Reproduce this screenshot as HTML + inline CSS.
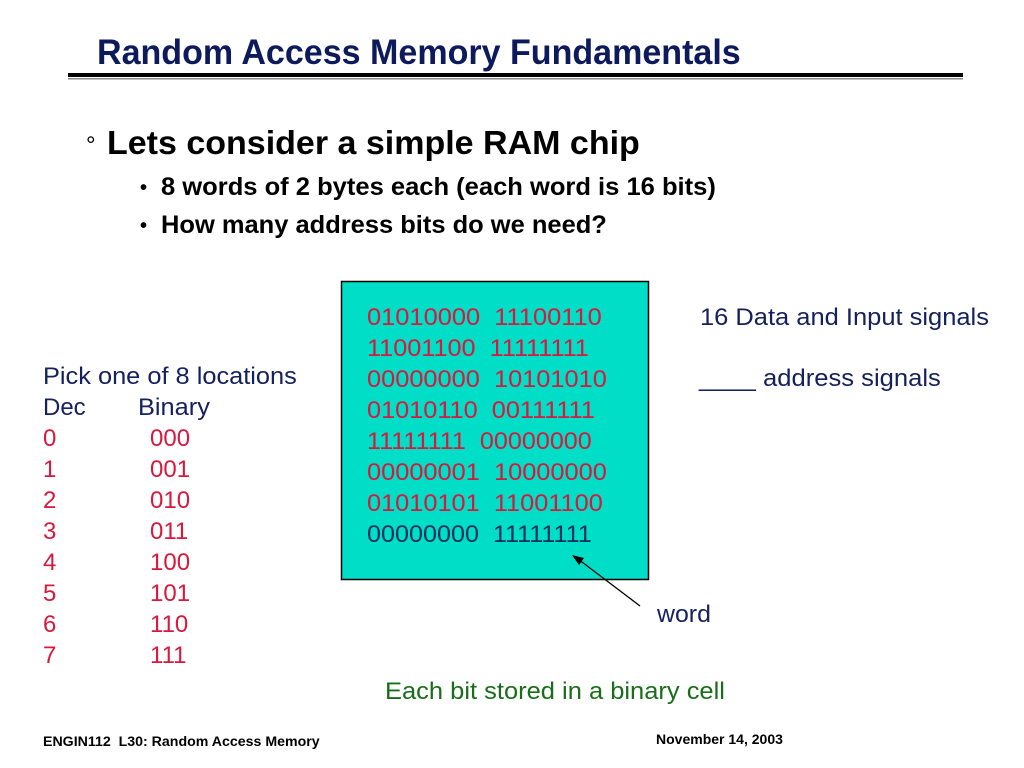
<!DOCTYPE html>
<html><head><meta charset="utf-8"><style>
html,body{margin:0;padding:0;background:#fff;width:1024px;height:768px;overflow:hidden}
svg{display:block}
text{font-family:"Liberation Sans",Arial,sans-serif}
</style></head><body>
<svg width="1024" height="768" viewBox="0 0 1024 768" xmlns="http://www.w3.org/2000/svg">
<text id="t1" x="97" y="64" font-size="35" font-weight="bold" fill="#0d1a5c">Random Access Memory Fundamentals</text>
<rect x="68" y="73" width="895" height="4" fill="#000"/>
<rect x="68" y="78" width="895" height="1.5" fill="#888"/>

<text x="86" y="153" font-size="24" fill="#000">°</text>
<text id="t2" x="107" y="154" font-size="33" font-weight="bold" fill="#000">Lets consider a simple RAM chip</text>
<text x="140" y="194" font-size="20" font-weight="bold" fill="#000">•</text>
<text id="t3" x="161" y="195" font-size="25" font-weight="bold" fill="#000">8 words of 2 bytes each (each word is 16 bits)</text>
<text x="140" y="232" font-size="20" font-weight="bold" fill="#000">•</text>
<text id="t4" x="161" y="233" font-size="25" font-weight="bold" fill="#000">How many address bits do we need?</text>

<rect x="341.5" y="281.5" width="307" height="298" fill="#00dec8" stroke="#000" stroke-width="1.5"/>
<g font-size="24" fill="#d8183c">
<text id="r1" x="367" y="325">01010000&#160;&#160;11100110</text>
<text id="r2" x="367" y="356">11001100&#160;&#160;11111111</text>
<text id="r3" x="367" y="387">00000000&#160;&#160;10101010</text>
<text id="r4" x="367" y="418">01010110&#160;&#160;00111111</text>
<text id="r5" x="367" y="449">11111111&#160;&#160;00000000</text>
<text id="r6" x="367" y="480">00000001&#160;&#160;10000000</text>
<text id="r7" x="367" y="511">01010101&#160;&#160;11001100</text>
<text id="r8" x="367" y="542" fill="#003060">00000000&#160;&#160;11111111</text>
</g>

<g font-size="24" fill="#15205e">
<text id="s1" x="700" y="325">16 Data and Input signals</text>
<text id="s2" x="699" y="386">____ address signals</text>
<text id="s3" x="43" y="384">Pick one of 8 locations</text>
<text x="43" y="415">Dec</text>
<text id="s5" x="138" y="415">Binary</text>
<text id="s6" x="657" y="622">word</text>
</g>
<g font-size="24" fill="#d8183c">
<text x="43" y="446">0</text><text x="150" y="446">000</text>
<text x="43" y="477">1</text><text x="150" y="477">001</text>
<text x="43" y="508">2</text><text x="150" y="508">010</text>
<text x="43" y="539">3</text><text x="150" y="539">011</text>
<text x="43" y="570">4</text><text x="150" y="570">100</text>
<text x="43" y="601">5</text><text x="150" y="601">101</text>
<text x="43" y="632">6</text><text x="150" y="632">110</text>
<text x="43" y="663">7</text><text x="150" y="663">111</text>
</g>

<line x1="640" y1="606" x2="578" y2="559" stroke="#000" stroke-width="1.3"/>
<polygon points="572,555 584,558 579,565" fill="#000"/>

<text id="s4" x="385" y="699" font-size="24" fill="#1a6e1a">Each bit stored in a binary cell</text>

<text id="f1" x="43" y="746" font-size="14" font-weight="bold" fill="#000">ENGIN112&#160;&#160;L30: Random Access Memory</text>
<text id="f2" x="656" y="744" font-size="14" font-weight="bold" fill="#000">November 14, 2003</text>
</svg>
<script>
var T={t1:644,t2:533,t3:555,t4:446,r1:235,r2:222,r3:240,r4:228,r5:225,r6:240,r7:236,r8:225,s1:289,s2:242,s3:254,s4:340,s5:72,s6:54,f1:277,f2:127};
for(var id in T){var e=document.getElementById(id);if(!e)continue;var w=e.getComputedTextLength();if(!w)continue;var x=parseFloat(e.getAttribute('x'));var s=T[id]/w;e.setAttribute('transform','translate('+x+',0) scale('+s+',1) translate('+(-x)+',0)');}
</script>
</body></html>
